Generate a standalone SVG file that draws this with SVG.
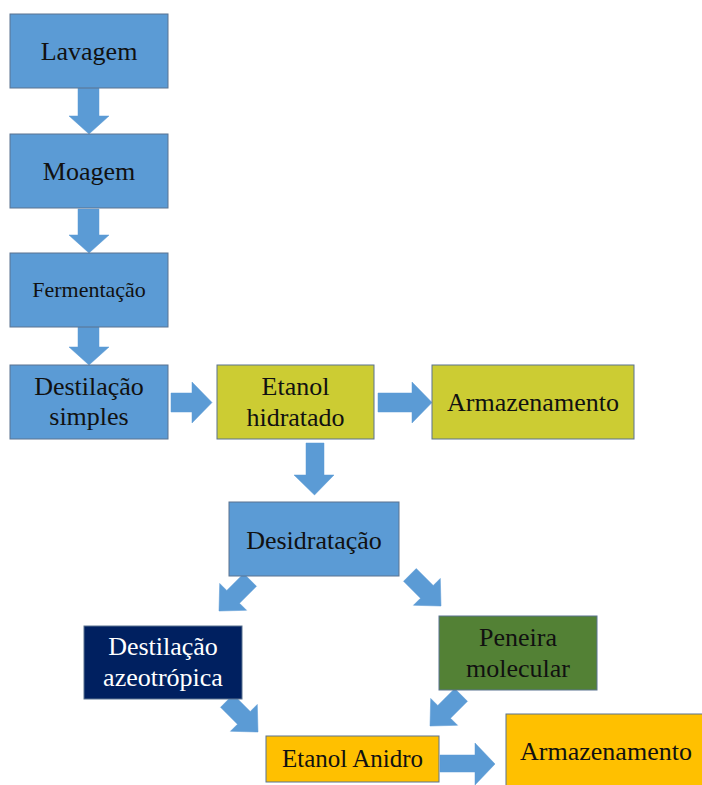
<svg xmlns="http://www.w3.org/2000/svg" width="702" height="785" viewBox="0 0 702 785">
<style>
.box{stroke:#5a7390;stroke-width:1}
.blue{fill:#5B9BD5}
.lime{fill:#CCCC33}
.navy{fill:#002060}
.green{fill:#538135}
.orange{fill:#FFC000}
.arr{fill:#5B9BD5;stroke:#5B9BD5;stroke-width:0.5}
.t{font-family:"Liberation Serif",Tinos,"DejaVu Serif","Noto Serif",serif;font-size:26px;fill:#111;text-anchor:middle}
.w{fill:#fff}
</style>
<defs>
<path id="darr" d="M-44,-9 H-20 V-19 L0,0 L-20,19 V9 H-44 Z"/>
</defs>
<rect width="702" height="785" fill="#fff"/>
<g id="connectors">
<path class="arr" d="M78,88 H99 V116 H109 L89,134 L69,116 H78 Z"/>
<path class="arr" d="M78,209 H99 V235 H109 L89,253 L69,235 H78 Z"/>
<path class="arr" d="M78,327 H99 V347 H109 L89,365 L69,347 H78 Z"/>
<path class="arr" d="M171,393 H192 V382 L212,402.5 L192,423 V412 H171 Z"/>
<path class="arr" d="M378,393 H412 V382 L432,402.5 L412,423 V412 H378 Z"/>
<path class="arr" d="M306,443 H324 V475 H334 L314.5,495 L294,475 H306 Z"/>
<use class="arr" href="#darr" transform="translate(219,611) rotate(135)"/>
<use class="arr" href="#darr" transform="translate(441,606) rotate(45)"/>
<use class="arr" href="#darr" transform="translate(258,732) rotate(45)"/>
<use class="arr" href="#darr" transform="translate(430,726) rotate(135)"/>
<path class="arr" d="M440,755 H475 V743 L495,764 L475,785 V772 H440 Z"/>
</g>
<g id="lavagem"><rect class="box blue" x="10" y="14" width="158" height="74"/><text class="t" x="89" y="60">Lavagem</text></g>
<g id="moagem"><rect class="box blue" x="10" y="134" width="158" height="74"/><text class="t" x="89" y="180">Moagem</text></g>
<g id="fermentacao"><rect class="box blue" x="10" y="253" width="158" height="74"/><text class="t" x="89" y="297" style="font-size:22px">Fermentação</text></g>
<g id="destilacao-simples"><rect class="box blue" x="10" y="365" width="158" height="74"/><text class="t" x="89" y="395">Destilação</text><text class="t" x="89" y="425">simples</text></g>
<g id="etanol-hidratado"><rect class="box lime" x="217" y="365" width="157" height="74"/><text class="t" x="295.5" y="395">Etanol</text><text class="t" x="295.5" y="426">hidratado</text></g>
<g id="armazenamento1"><rect class="box lime" x="432" y="365" width="202" height="74"/><text class="t" x="533" y="411">Armazenamento</text></g>
<g id="desidratacao"><rect class="box blue" x="229" y="502" width="170" height="74"/><text class="t" x="314" y="549">Desidratação</text></g>
<g id="destilacao-azeotropica"><rect class="box navy" x="84" y="626" width="158" height="73"/><text class="t w" x="163" y="655">Destilação</text><text class="t w" x="163" y="686">azeotrópica</text></g>
<g id="peneira"><rect class="box green" x="439" y="616" width="158" height="74"/><text class="t" x="518" y="646">Peneira</text><text class="t" x="518" y="677">molecular</text></g>
<g id="etanol-anidro"><rect class="box orange" x="266" y="736" width="173" height="46"/><text class="t" x="352.5" y="767" style="font-size:25px">Etanol Anidro</text></g>
<g id="armazenamento2"><rect class="box orange" x="506" y="714" width="200" height="75"/><text class="t" x="606" y="760">Armazenamento</text></g>
</svg>
